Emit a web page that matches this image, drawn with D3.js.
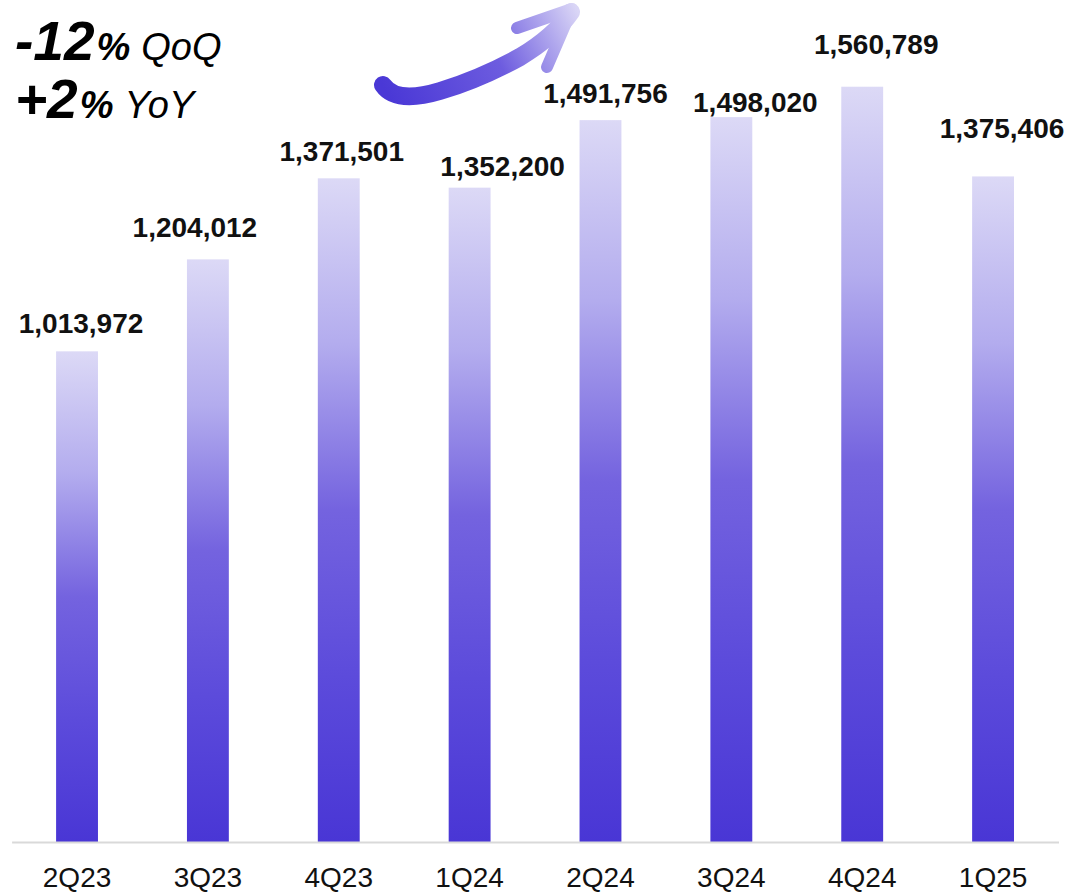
<!DOCTYPE html>
<html>
<head>
<meta charset="utf-8">
<script src="https://cdn.jsdelivr.net/npm/d3@7"></script>
<style>
  html, body { margin: 0; padding: 0; background: #ffffff; }
  svg { display: block; font-family: "Liberation Sans", Arial, sans-serif; }
</style>
</head>
<body>
<svg id="chart" width="1071" height="892"></svg>
<script>
// Quarterly totals
const quarters = ["2Q23", "3Q23", "4Q23", "1Q24", "2Q24", "3Q24", "4Q24", "1Q25"];
const totals = [1013972, 1204012, 1371501, 1352200, 1491756, 1498020, 1560789, 1375406];

// Headline change figures
const qoqChange = "-12";
const yoyChange = "+2";

// Hand-placed value labels: horizontal nudge from bar centre, gap above bar top
const labelNudgeX = [4, -13, 3, 33, 5, 24, 14, 9];
const labelGap = [18, 22, 17, 12, 17, 5, 33, 38];

const svg = d3.select("#chart");
const baseY = 842;

const x = d3.scaleBand()
  .domain(quarters)
  .range([11.6, 1058.5])
  .paddingInner(0.68)
  .paddingOuter(0.34);

const y = d3.scaleLinear()
  .domain([0, 1740000])
  .range([baseY, 0]);

const defs = svg.append("defs");

// Vertical fade used by every bar (light lavender at the top, deep violet at the base)
const barGrad = defs.append("linearGradient")
  .attr("id", "barGrad")
  .attr("x1", 0).attr("y1", 0).attr("x2", 0).attr("y2", 1);
barGrad.append("stop").attr("offset", "0%").attr("stop-color", "#dcd9f6");
barGrad.append("stop").attr("offset", "25%").attr("stop-color", "#b3acee");
barGrad.append("stop").attr("offset", "50%").attr("stop-color", "#7463df");
barGrad.append("stop").attr("offset", "75%").attr("stop-color", "#5c4bdb");
barGrad.append("stop").attr("offset", "100%").attr("stop-color", "#4936d5");

// Gradient for the upward arrow
const arrowGrad = defs.append("linearGradient")
  .attr("id", "arrowGrad")
  .attr("gradientUnits", "userSpaceOnUse")
  .attr("x1", 390).attr("y1", 100).attr("x2", 575).attr("y2", 5);
arrowGrad.append("stop").attr("offset", "0%").attr("stop-color", "#4a38d6");
arrowGrad.append("stop").attr("offset", "55%").attr("stop-color", "#6d5cdf");
arrowGrad.append("stop").attr("offset", "100%").attr("stop-color", "#dad6f6");

// Bars
svg.append("g")
  .selectAll("rect")
  .data(totals)
  .join("rect")
  .attr("x", (d, i) => x(quarters[i]))
  .attr("y", d => y(d))
  .attr("width", x.bandwidth())
  .attr("height", d => baseY - y(d))
  .attr("fill", "url(#barGrad)");

// Category axis
const axis = svg.append("g")
  .attr("transform", `translate(0,${baseY})`)
  .call(d3.axisBottom(x).tickSize(0).tickSizeOuter(0).tickPadding(25));
axis.select(".domain").attr("stroke", "#d9d9d9").attr("stroke-width", 2);
axis.selectAll("text")
  .attr("font-size", 28)
  .attr("font-family", "'Liberation Sans', Arial, sans-serif")
  .attr("fill", "#111111");

// Value labels
const fmt = d3.format(",");
svg.append("g")
  .selectAll("text")
  .data(totals)
  .join("text")
  .attr("x", (d, i) => x(quarters[i]) + x.bandwidth() / 2 + labelNudgeX[i])
  .attr("y", (d, i) => y(d) - labelGap[i])
  .attr("text-anchor", "middle")
  .attr("font-size", 28)
  .attr("font-weight", "bold")
  .attr("fill", "#111111")
  .text(d => fmt(d));

// Headline figures
function headline(yPos, figure, suffix) {
  const t = svg.append("text")
    .attr("x", 15)
    .attr("y", yPos)
    .attr("fill", "#000000")
    .attr("font-style", "italic");
  t.append("tspan").attr("font-size", 55).attr("font-weight", "bold").text(figure);
  t.append("tspan").attr("font-size", 38).attr("font-weight", "bold").attr("dx", 2).text("%");
  t.append("tspan").attr("font-size", 38).attr("font-weight", "normal").attr("dx", 11).text(suffix);
}
headline(60, qoqChange, "QoQ");
headline(118, yoyChange, "YoY");

// Upward-trend arrow
const arrow = svg.append("g").attr("fill", "none").attr("stroke", "url(#arrowGrad)")
  .attr("stroke-linecap", "round").attr("stroke-linejoin", "round");
arrow.append("path")
  .attr("d", "M383,85 C394,101 420,97 440,91 C470,82 500,68 520,57 C545,42 560,28 571,12")
  .attr("stroke-width", 18);
arrow.append("path")
  .attr("d", "M517,28 L572,9 L547,67")
  .attr("stroke-width", 12);
</script>
</body>
</html>
